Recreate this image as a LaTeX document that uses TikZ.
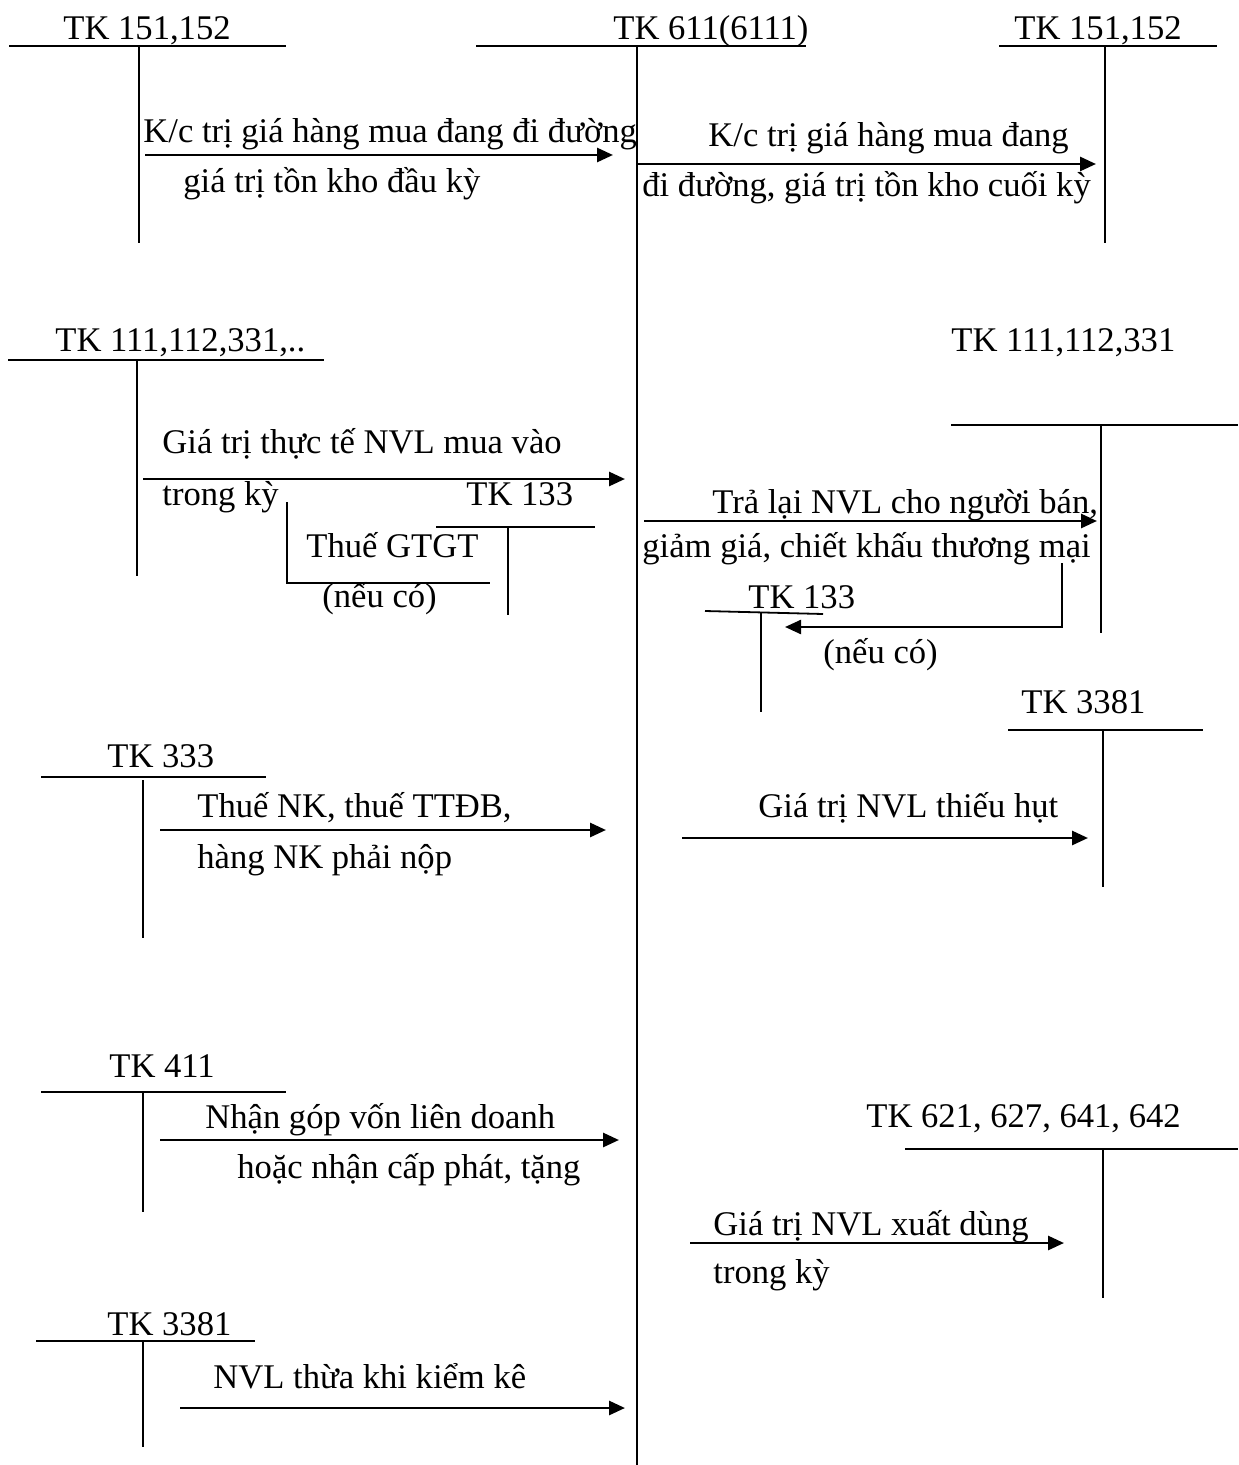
\documentclass[tikz,border=0pt]{standalone}
\usepackage{fontspec}
\setmainfont{Liberation Serif}
\usetikzlibrary{arrows.meta}

\begin{document}
\begin{tikzpicture}[
  x=0.5pt, y=-0.5pt,
  every node/.style = {font=\fontsize{17.3}{20}\selectfont, inner sep=0pt,
                       anchor=base west},
  tline/.style = {line width=0.9pt},
  mainline/.style = {line width=1.2pt},
  arr/.style = {-{Triangle[length=8pt, width=7pt]}, line width=1.4pt},
]
\useasboundingbox (0,0) rectangle (1238,1465);

%% ── Main account TK 611 ───────────────────────────────────────────────────
\node (tk611) at (613,40) {TK 611(6111)};
\draw[tline]    (476,46) -- (806,46);
\draw[mainline] (637,46) -- (637,1465);

%% ── TK 151,152 (opening / closing) ───────────────────────────────────────
\node (tk151l) at (63,40) {TK 151,152};
\draw[tline] (9,46) -- (286,46);
\draw[tline] (139,46) -- (139,243);

\node (tk151r) at (1014,40) {TK 151,152};
\draw[tline] (999,46) -- (1217,46);
\draw[tline] (1105,46) -- (1105,243);

\coordinate (kcIn)  at (145,155);
\coordinate (kcInE) at (613,155);
\draw[arr] (kcIn) -- (kcInE);
\node (kcInTop) at (143,143) {K/c trị giá hàng mua đang đi đường};
\node (kcInBot) at (183,193) {giá trị tồn kho đầu kỳ};

\coordinate (kcOut)  at (637,164);
\coordinate (kcOutE) at (1096,164);
\draw[arr] (kcOut) -- (kcOutE);
\node (kcOutTop) at (708,147) {K/c trị giá hàng mua đang};
\node (kcOutBot) at (642,197) {đi đường, giá trị tồn kho cuối kỳ};

%% ── TK 111,112,331 (purchases) ───────────────────────────────────────────
\node (tk111l) at (55,351) {TK 111,112,331,..};
\draw[tline] (8,360) -- (324,360);
\draw[tline] (137,360) -- (137,576);

\coordinate (buy)  at (143,479);
\coordinate (buyE) at (625,479);
\draw[arr] (buy) -- (buyE);
\node (buyTop) at (162,453) {Giá trị thực tế NVL mua vào};
\node (buyBot) at (162,505) {trong kỳ};

\node (tk133l) at (466,505) {TK 133};
\draw[tline] (436,527) -- (595,527);
\draw[tline] (508,527) -- (508,615);

\coordinate (vatIn)  at (287,502);
\coordinate (vatInE) at (490,583);
\draw[tline] (vatIn) |- (vatInE);
\node (vatInTop) at (306,557) {Thuế GTGT};
\node (vatInBot) at (322,607) {(nếu có)};

%% ── TK 111,112,331 (returns) ─────────────────────────────────────────────
\node (tk111r) at (951,351) {TK 111,112,331};
\draw[tline] (951,425) -- (1238,425);
\draw[tline] (1101,425) -- (1101,633);

\coordinate (ret)  at (644,521);
\coordinate (retE) at (1097,521);
\draw[arr] (ret) -- (retE);
\node (retTop) at (712,513) {Trả lại NVL cho người bán,};
\node (retBot) at (642,557) {giảm giá, chiết khấu thương mại};

\node (tk133r) at (748,608) {TK 133};
\draw[tline] (705,611) -- (823,614);
\draw[tline] (761,613) -- (761,712);

\coordinate (vatOut)  at (1062,563);
\coordinate (vatOutE) at (785,627);
\draw[arr, line width=1.2pt] (vatOut) |- (vatOutE);
\node (vatOutBot) at (823,663) {(nếu có)};

%% ── TK 333 / TK 3381 (shortage) ──────────────────────────────────────────
\node (tk333) at (107,767) {TK 333};
\draw[tline] (41,777) -- (266,777);
\draw[tline] (143,780) -- (143,938);

\coordinate (tax)  at (160,830);
\coordinate (taxE) at (606,830);
\draw[arr] (tax) -- (taxE);
\node (taxTop) at (197,817) {Thuế NK, thuế TTĐB,};
\node (taxBot) at (197,868) {hàng NK phải nộp};

\node (tk3381r) at (1021,713) {TK 3381};
\draw[tline] (1008,730) -- (1203,730);
\draw[tline] (1103,730) -- (1103,887);

\coordinate (lack)  at (682,838);
\coordinate (lackE) at (1088,838);
\draw[arr] (lack) -- (lackE);
\node (lackTop) at (758,817) {Giá trị NVL thiếu hụt};

%% ── TK 411 / TK 621... ──────────────────────────────────────────────────
\node (tk411) at (109,1077) {TK 411};
\draw[tline] (41,1092) -- (286,1092);
\draw[tline] (143,1092) -- (143,1212);

\coordinate (cap)  at (160,1140);
\coordinate (capE) at (619,1140);
\draw[arr] (cap) -- (capE);
\node (capTop) at (205,1128) {Nhận góp vốn liên doanh};
\node (capBot) at (237,1178) {hoặc nhận cấp phát, tặng};

\node (tk621) at (866,1127) {TK 621, 627, 641, 642};
\draw[tline] (905,1149) -- (1238,1149);
\draw[tline] (1103,1149) -- (1103,1298);

\coordinate (use)  at (690,1243);
\coordinate (useE) at (1064,1243);
\draw[arr] (use) -- (useE);
\node (useTop) at (713,1235) {Giá trị NVL xuất dùng};
\node (useBot) at (713,1283) {trong kỳ};

%% ── TK 3381 (surplus) ───────────────────────────────────────────────────
\node (tk3381l) at (107,1335) {TK 3381};
\draw[tline] (36,1341) -- (255,1341);
\draw[tline] (143,1341) -- (143,1447);

\coordinate (surp)  at (180,1408);
\coordinate (surpE) at (625,1408);
\draw[arr] (surp) -- (surpE);
\node (surpTop) at (213,1388) {NVL thừa khi kiểm kê};

\end{tikzpicture}
\end{document}
